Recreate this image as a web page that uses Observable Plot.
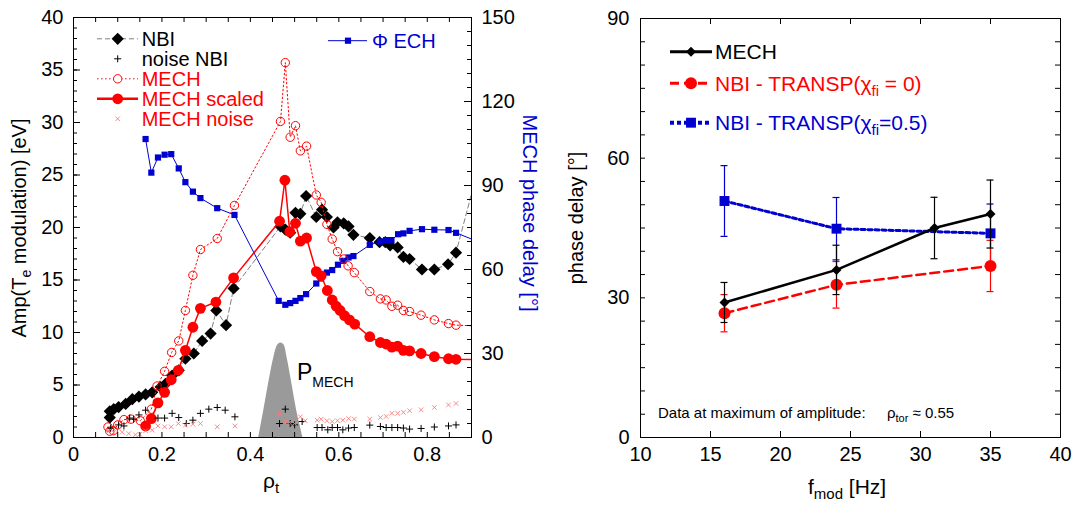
<!DOCTYPE html>
<html><head><meta charset="utf-8">
<script src="https://cdn.jsdelivr.net/npm/d3@7"></script>
<script src="https://cdn.jsdelivr.net/npm/@observablehq/plot@0.6"></script>
<style>
html,body{margin:0;padding:0;background:#fff;}
#wrap{display:flex;width:1074px;height:506px;overflow:hidden;}
#wrap svg{display:block;}
</style></head><body><div id="wrap"></div>
<script>
// ---------------- LEFT PANEL DATA ----------------
const echRho   = [0.163,0.176,0.191,0.206,0.221,0.238,0.253,0.270,0.287,0.325,0.364,0.464,0.479,0.490,0.502,0.513,0.526,0.549,0.560,0.573,0.585,0.598,0.610,0.622,0.633,0.670,0.694,0.707,0.719,0.734,0.746,0.760,0.788,0.816,0.848,0.865,0.930];
const echPhase = [106.6,94.6,100.0,101.0,101.2,96.1,91.2,87.8,85.5,81.9,79.5,48.8,47.4,48.0,48.8,49.8,51.2,55.0,56.8,58.9,59.8,61.7,63.1,64.3,64.8,68.8,70.0,70.5,70.5,72.6,72.9,73.8,74.4,74.2,74.1,73.1,69.0];

const nbiRho = [0.082,0.082,0.091,0.102,0.118,0.133,0.148,0.163,0.178,0.197,0.208,0.223,0.238,0.253,0.272,0.291,0.310,0.323,0.345,0.362,0.468,0.479,0.490,0.502,0.513,0.526,0.549,0.562,0.573,0.588,0.597,0.611,0.622,0.633,0.670,0.692,0.705,0.716,0.733,0.746,0.760,0.788,0.816,0.847,0.865,0.930];
const nbiAmp = [1.9,2.5,2.7,2.9,3.2,3.65,3.9,4.1,4.3,4.8,5.1,5.9,6.4,7.5,8.0,9.2,9.9,12.1,10.7,14.2,20.1,19.8,19.5,21.4,21.3,23.0,21.0,21.7,21.0,20.0,20.5,20.4,20.1,19.3,19.0,18.6,18.6,18.3,18.1,17.2,17.0,16.0,16.0,16.5,17.6,28.0];

const mechRho = [0.078,0.082,0.090,0.100,0.114,0.130,0.151,0.176,0.189,0.206,0.222,0.238,0.253,0.270,0.287,0.325,0.364,0.468,0.479,0.490,0.502,0.513,0.527,0.549,0.560,0.573,0.585,0.597,0.611,0.621,0.635,0.670,0.694,0.707,0.720,0.733,0.746,0.760,0.786,0.816,0.848,0.865,0.930];
const mechAmp = [1.0,0.6,0.65,1.2,1.7,1.75,1.6,2.7,4.9,6.3,8.1,9.2,12.1,15.45,17.9,18.95,22.1,30.1,35.7,28.6,29.7,27.3,27.75,23.1,22.4,20.3,18.9,17.7,17.0,16.35,15.7,13.9,13.2,13.1,12.5,12.6,12.1,12.0,11.65,11.2,10.85,10.7,10.6];

const mechSRho = [0.163,0.176,0.191,0.206,0.221,0.237,0.253,0.270,0.287,0.322,0.362,0.466,0.478,0.489,0.502,0.513,0.527,0.549,0.560,0.574,0.585,0.594,0.603,0.613,0.624,0.636,0.670,0.694,0.707,0.720,0.733,0.746,0.760,0.786,0.816,0.848,0.865,0.930];
const mechSAmp = [1.1,1.8,3.3,4.3,5.5,6.4,8.3,10.5,12.3,12.9,15.2,20.6,24.5,19.6,20.4,18.7,19.0,15.8,15.4,14.0,13.1,12.5,12.1,11.6,11.2,10.8,9.6,9.05,8.9,8.6,8.7,8.3,8.25,8.0,7.7,7.5,7.45,7.4];

const noiseNbiRho = [0.084,0.102,0.114,0.127,0.136,0.148,0.163,0.191,0.206,0.223,0.238,0.255,0.270,0.287,0.306,0.325,0.343,0.365,0.466,0.479,0.490,0.500,0.517,0.551,0.562,0.575,0.585,0.597,0.609,0.622,0.635,0.670,0.694,0.707,0.720,0.733,0.746,0.760,0.786,0.816,0.848,0.865];
const noiseNbiAmp = [0.9,1.2,1.1,1.85,1.75,2.15,2.6,1.85,1.85,2.3,1.9,1.33,1.65,2.3,2.7,2.86,2.6,1.97,1.33,2.7,1.33,1.2,1.52,0.95,0.95,0.73,0.95,0.95,0.73,0.9,0.95,1.18,1.05,0.95,0.95,0.95,0.9,0.8,0.86,1.0,1.1,1.2];

const noiseMechRho = [0.080,0.091,0.110,0.125,0.140,0.150,0.163,0.178,0.191,0.206,0.221,0.237,0.253,0.270,0.287,0.325,0.365,0.466,0.479,0.489,0.500,0.513,0.524,0.551,0.560,0.573,0.585,0.597,0.609,0.622,0.635,0.670,0.694,0.707,0.720,0.733,0.746,0.760,0.786,0.816,0.848,0.865];
const noiseMechAmp = [0.6,0.48,0.5,0.38,0.26,0.3,0.64,0.7,1.1,1.02,1.02,1.33,1.18,1.27,1.33,1.02,1.1,2.3,1.52,1.43,1.33,1.97,1.6,1.65,1.75,1.6,1.52,1.6,1.65,1.8,1.75,1.75,1.9,2.0,2.3,2.3,2.4,2.55,2.64,2.86,3.1,3.24];

const pmechRho = [0.419,0.430,0.441,0.453,0.462,0.469,0.476,0.483,0.494,0.505,0.519];
const pmechAmp = [0,2.5,5.1,7.6,8.8,9.0,8.8,7.6,5.1,2.5,0];

const leftXTicks = [0,0.2,0.4,0.6,0.8];
const leftYTicks = [0,5,10,15,20,25,30,35,40];
const rightPhaseTicks = [0,30,60,90,120,150];

// ---------------- RIGHT PANEL DATA ----------------
const mechF = [16,24,31,35];
const mechDelay = [29,36,45,48];
const mechErr = [4.3,5.3,6.6,7.3];
const nbi0F = [16,24,35];
const nbi0Delay = [26.7,32.8,36.85];
const nbi0Err = [4.0,5.0,5.5];
const nbi5F = [16,24,35];
const nbi5Delay = [50.8,44.85,43.85];
const nbi5Err = [7.6,6.7,6.3];
const fTicks = [10,15,20,25,30,35,40];
const delayTicks = [0,30,60,90];

// ---------------- HELPERS ----------------
const FONT = '"Liberation Sans", Arial, Helvetica, sans-serif';
const RED = "#ff0000", BLUE = "#0000d0", LRED = "#ff7a7a";
const rows = (xs, ys) => xs.map((x, i) => ({x, y: ys[i]}));
const errRows = (xs, ys, es) => xs.map((x, i) => ({x, y: ys[i], e: es[i]}));
const capRows = (xs, ys, es) => xs.flatMap((x, i) => [{x, y: ys[i] - es[i]}, {x, y: ys[i] + es[i]}]);
const toLeft = p => p * 40 / 150;

const ech = rows(echRho, echPhase);
const nbi = rows(nbiRho, nbiAmp);
const mech = rows(mechRho, mechAmp);
const mechS = rows(mechSRho, mechSAmp);
const noiseNbi = rows(noiseNbiRho, noiseNbiAmp);
const noiseMech = rows(noiseMechRho, noiseMechAmp);
const pmech = rows(pmechRho, pmechAmp);

// frame sizes
const LW = 560, LH = 506, LML = 73, LMR = 89, LMT = 17, LMB = 69;
const LFH = LH - LMT - LMB, LFW = LW - LML - LMR;
const RW = 514, RH = 506, RML = 80, RMR = 14, RMT = 18, RMB = 69;
const RFH = RH - RMT - RMB, RFW = RW - RML - RMR;

const left = Plot.plot({
  width: LW, height: LH, marginLeft: LML, marginRight: LMR, marginTop: LMT, marginBottom: LMB,
  x: {domain: [0, 0.9], label: null},
  y: {domain: [0, 40], label: null},
  style: {fontFamily: FONT, fontSize: "20px", background: "white", color: "black"},
  marks: [
    Plot.areaY(pmech, {x: "x", y: "y", fill: "#9a9a9a", curve: "catmull-rom"}),
    Plot.line(nbi, {x: "x", y: "y", stroke: "#808080", strokeWidth: 1, strokeDasharray: "5,3", clip: true}),
    Plot.dot(nbi, {x: "x", y: "y", symbol: "diamond2", r: 5.5, fill: "black", stroke: "none", clip: true}),
    Plot.line(ech, {x: "x", y: d => toLeft(d.y), stroke: BLUE, strokeWidth: 1, clip: true}),
    Plot.dot(ech, {x: "x", y: d => toLeft(d.y), symbol: "square", r: 3.5, fill: BLUE, stroke: "none", clip: true}),
    Plot.line(mech, {x: "x", y: "y", stroke: RED, strokeWidth: 1, strokeDasharray: "1.5,2.5", clip: true}),
    Plot.dot(mech, {x: "x", y: "y", symbol: "circle", r: 4.2, fill: "none", stroke: RED, strokeWidth: 1, clip: true}),
    Plot.line(mechS, {x: "x", y: "y", stroke: RED, strokeWidth: 1.5, clip: true}),
    Plot.dot(mechS, {x: "x", y: "y", symbol: "circle", r: 5.4, fill: RED, stroke: "none", clip: true}),
    Plot.dot(noiseNbi, {x: "x", y: "y", symbol: "plus", r: 2.4, fill: "none", stroke: "black", strokeWidth: 1}),
    Plot.dot(noiseMech, {x: "x", y: "y", symbol: "times", r: 2.2, fill: "none", stroke: LRED, strokeWidth: 0.9}),
    // inward ticks
    Plot.ruleX(d3.range(0, 0.9001, 0.05), {x: d => d, insetTop: LFH - 5, stroke: "black"}),
    Plot.ruleX(d3.range(0, 0.9001, 0.05), {x: d => d, insetBottom: LFH - 5, stroke: "black"}),
    Plot.ruleY(d3.range(0, 41, 1), {y: d => d, insetRight: LFW - 4, stroke: "black"}),
    Plot.ruleY(leftYTicks, {y: d => d, insetRight: LFW - 7, stroke: "black"}),
    Plot.ruleY(d3.range(0, 151, 5), {y: d => toLeft(d), insetLeft: LFW - 4, stroke: "black"}),
    Plot.ruleY(rightPhaseTicks, {y: d => toLeft(d), insetLeft: LFW - 7, stroke: "black"}),
    Plot.frame({stroke: "black", strokeWidth: 1}),
    Plot.axisX({ticks: leftXTicks, tickSize: 0, tickPadding: 9, fontSize: 20, label: null,
      tickFormat: d => d === 0 ? "0" : d.toFixed(1)}),
    Plot.axisY({ticks: leftYTicks, tickSize: 0, tickPadding: 10, fontSize: 20, label: null, tickFormat: d => String(d)}),
    Plot.axisY({anchor: "right", ticks: rightPhaseTicks.map(toLeft), tickSize: 0, tickPadding: 10, fontSize: 20, label: null,
      tickFormat: d => String(Math.round(d * 150 / 40))})
  ]
});

const right = Plot.plot({
  width: RW, height: RH, marginLeft: RML, marginRight: RMR, marginTop: RMT, marginBottom: RMB,
  x: {domain: [10, 40], label: null},
  y: {domain: [0, 90], label: null},
  style: {fontFamily: FONT, fontSize: "20px", background: "white", color: "black"},
  marks: [
    // blue series
    Plot.ruleX(errRows(nbi5F, nbi5Delay, nbi5Err), {x: "x", y1: d => d.y - d.e, y2: d => d.y + d.e, stroke: BLUE, strokeWidth: 1.2}),
    Plot.ruleY(capRows(nbi5F, nbi5Delay, nbi5Err), {y: "y", x1: d => d.x - 0.25, x2: d => d.x + 0.25, stroke: BLUE, strokeWidth: 1.2}),
    Plot.line(rows(nbi5F, nbi5Delay), {x: "x", y: "y", stroke: BLUE, strokeWidth: 3, strokeDasharray: "4,3"}),
    Plot.dot(rows(nbi5F, nbi5Delay), {x: "x", y: "y", symbol: "square", r: 5.6, fill: BLUE, stroke: "none"}),
    // red series
    Plot.ruleX(errRows(nbi0F, nbi0Delay, nbi0Err), {x: "x", y1: d => d.y - d.e, y2: d => d.y + d.e, stroke: RED, strokeWidth: 1.2}),
    Plot.ruleY(capRows(nbi0F, nbi0Delay, nbi0Err), {y: "y", x1: d => d.x - 0.25, x2: d => d.x + 0.25, stroke: RED, strokeWidth: 1.2}),
    Plot.line(rows(nbi0F, nbi0Delay), {x: "x", y: "y", stroke: RED, strokeWidth: 2.5, strokeDasharray: "9,5"}),
    Plot.dot(rows(nbi0F, nbi0Delay), {x: "x", y: "y", symbol: "circle", r: 6, fill: RED, stroke: "none"}),
    // black series
    Plot.ruleX(errRows(mechF, mechDelay, mechErr), {x: "x", y1: d => d.y - d.e, y2: d => d.y + d.e, stroke: "black", strokeWidth: 1.2}),
    Plot.ruleY(capRows(mechF, mechDelay, mechErr), {y: "y", x1: d => d.x - 0.25, x2: d => d.x + 0.25, stroke: "black", strokeWidth: 1.2}),
    Plot.line(rows(mechF, mechDelay), {x: "x", y: "y", stroke: "black", strokeWidth: 2.5}),
    Plot.dot(rows(mechF, mechDelay), {x: "x", y: "y", symbol: "diamond2", r: 4.5, fill: "black", stroke: "none"}),
    // inward ticks
    Plot.ruleX(fTicks, {x: d => d, insetTop: RFH - 6, stroke: "black"}),
    Plot.ruleX(fTicks, {x: d => d, insetBottom: RFH - 6, stroke: "black"}),
    Plot.ruleY(d3.range(0, 91, 5), {y: d => d, insetRight: RFW - 5, stroke: "black"}),
    Plot.ruleY(d3.range(0, 91, 5), {y: d => d, insetLeft: RFW - 5, stroke: "black"}),
    Plot.frame({stroke: "black", strokeWidth: 1}),
    Plot.axisX({ticks: fTicks, tickSize: 0, tickPadding: 9, fontSize: 20, label: null, tickFormat: d => String(d)}),
    Plot.axisY({ticks: delayTicks, tickSize: 0, tickPadding: 11, fontSize: 20, label: null, tickFormat: d => String(d)})
  ]
});

document.getElementById("wrap").append(left, right);

// ---------------- TEXT & LEGENDS ----------------
function richText(svg, x, y, parts, opts = {}) {
  const t = d3.select(svg).append("text")
    .attr("x", x).attr("y", y)
    .attr("font-family", FONT)
    .attr("font-size", opts.size || 20)
    .attr("fill", opts.fill || "black")
    .attr("text-anchor", opts.anchor || "start");
  if (opts.rotate) t.attr("transform", `rotate(${opts.rotate},${x},${y})`);
  let shift = 0;
  for (const p of parts) {
    const s = t.append("tspan").text(p.t);
    const target = p.sub ? (p.shift ?? 5) : 0;
    if (target !== shift) { s.attr("dy", target - shift); shift = target; }
    if (p.sub) s.attr("font-size", p.size || 14);
  }
  return t;
}

function legendMarker(svg, cx, cy, type, size, fill, stroke, sw) {
  d3.select(svg).append("path")
    .attr("transform", `translate(${cx},${cy})`)
    .attr("d", d3.symbol(type, Math.PI * size * size)())
    .attr("fill", fill).attr("stroke", stroke).attr("stroke-width", sw || 1);
}
function legendLine(svg, x1, x2, y, stroke, sw, dash) {
  const l = d3.select(svg).append("line")
    .attr("x1", x1).attr("x2", x2).attr("y1", y).attr("y2", y)
    .attr("stroke", stroke).attr("stroke-width", sw);
  if (dash) l.attr("stroke-dasharray", dash);
}

// left panel labels
richText(left, 26, 228, [{t: "Amp(T"}, {t: "e", sub: true, size: 14, shift: 5}, {t: " modulation) [eV]"}], {rotate: -90, anchor: "middle", size: 20});
richText(left, 523, 213, [{t: "MECH phase delay [°]"}], {rotate: 90, anchor: "middle", size: 20, fill: BLUE});
richText(left, 263, 488, [{t: "ρ"}, {t: "t", sub: true, size: 15, shift: 5}], {size: 21});
richText(left, 297, 380, [{t: "P"}, {t: "MECH", sub: true, size: 14, shift: 7}], {size: 23});

// left legend
const lgX1 = 97, lgX2 = 138, lgM = 117.7, lgT = 141.7;
const lgY = [38.8, 58.8, 78.8, 98.8, 118.8];
legendLine(left, lgX1, lgX2, lgY[0], "#808080", 1, "5,3");
legendMarker(left, lgM, lgY[0], d3.symbolDiamond2, 5.5, "black", "none");
legendMarker(left, lgM, lgY[1], d3.symbolPlus, 2.4, "none", "black", 1);
legendLine(left, lgX1, lgX2, lgY[2], RED, 1, "1.5,2.5");
legendMarker(left, lgM, lgY[2], d3.symbolCircle, 4.2, "white", RED, 1);
legendLine(left, lgX1, lgX2, lgY[3], RED, 2.5);
legendMarker(left, lgM, lgY[3], d3.symbolCircle, 5.4, RED, "none");
legendMarker(left, lgM, lgY[4], d3.symbolTimes, 2.2, "none", LRED, 0.9);
const lgLabels = [["NBI", "black"], ["noise NBI", "black"], ["MECH", RED], ["MECH scaled", RED], ["MECH noise", RED]];
lgLabels.forEach(([s, c], i) => richText(left, lgT, lgY[i] + 7, [{t: s}], {size: 20, fill: c}));
legendLine(left, 328, 367, 40.7, BLUE, 1);
legendMarker(left, 348, 40.7, d3.symbolSquare, 3.5, BLUE, "none");
richText(left, 372, 47.7, [{t: "Φ ECH"}], {size: 20, fill: BLUE});

// right panel labels
richText(right, 23, 218, [{t: "phase delay [°]"}], {rotate: -90, anchor: "middle", size: 20});
richText(right, 248, 494, [{t: "f"}, {t: "mod", sub: true, size: 15, shift: 5}, {t: " [Hz]"}], {size: 21});
richText(right, 98, 418, [{t: "Data at maximum of amplitude:"}], {size: 15});
richText(right, 327, 418, [{t: "ρ"}, {t: "tor", sub: true, size: 11, shift: 4}, {t: " ≈ 0.55"}], {size: 15});

// right legend
const rgX1 = 110, rgX2 = 152, rgM = 131, rgT = 155;
const rgY = [51.7, 83.3, 122.7];
legendLine(right, rgX1, rgX2, rgY[0], "black", 3);
legendMarker(right, rgM, rgY[0], d3.symbolDiamond2, 4.5, "black", "none");
legendLine(right, rgX1, rgX2, rgY[1], RED, 3, "9,5");
legendMarker(right, rgM, rgY[1], d3.symbolCircle, 6, RED, "none");
legendLine(right, rgX1, rgX2, rgY[2], BLUE, 4, "4,3");
legendMarker(right, rgM, rgY[2], d3.symbolSquare, 5.6, BLUE, "none");
richText(right, rgT, rgY[0] + 7.5, [{t: "MECH"}], {size: 21});
richText(right, rgT, rgY[1] + 7.5, [{t: "NBI - TRANSP(χ"}, {t: "fi", sub: true, size: 15, shift: 5}, {t: " = 0)"}], {size: 21, fill: RED});
richText(right, rgT, rgY[2] + 7.5, [{t: "NBI - TRANSP(χ"}, {t: "fi", sub: true, size: 15, shift: 5}, {t: "=0.5)"}], {size: 21, fill: BLUE});
</script></body></html>
